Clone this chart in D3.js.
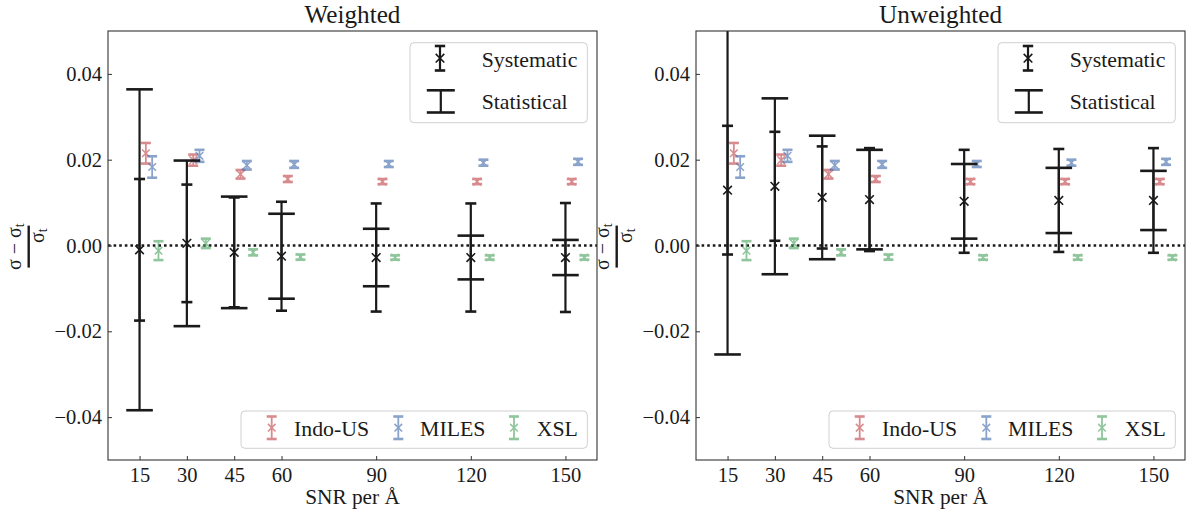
<!DOCTYPE html>
<html><head><meta charset="utf-8">
<script src="https://cdn.jsdelivr.net/npm/d3@7"></script>
<style>body{margin:0;background:#fff}svg{display:block}text{font-family:"Liberation Serif","Times New Roman",serif;fill:#1a1a1a}</style>
</head><body><svg id="c" width="1189" height="519"></svg>
<script>
const snr = [15, 30, 45, 60, 90, 120, 150];
const xTicks = [15, 30, 45, 60, 90, 120, 150];
const yTicks = [-0.04, -0.02, 0, 0.02, 0.04];

// Weighted (black)
const wMean = [-0.0010, 0.0005, -0.0016, -0.0025, -0.0028, -0.0028, -0.0028];
const wStat = [0.0374, 0.0193, 0.0130, 0.0099, 0.0067, 0.0051, 0.0041];
const wSys  = [0.0165, 0.0137, 0.0128, 0.0127, 0.0126, 0.0126, 0.0127];
// Unweighted (black)
const uMean = [0.0129, 0.0138, 0.0112, 0.0107, 0.0103, 0.0105, 0.0105];
const uStat = [0.0383, 0.0205, 0.0144, 0.0116, 0.0087, 0.0076, 0.0069];
const uSys  = [0.0150, 0.0127, 0.0119, 0.0120, 0.0120, 0.0120, 0.0122];
// Libraries
const libNames = ["Indo-US", "MILES", "XSL"];
const indoMean = [0.0215, 0.0199, 0.0166, 0.0155, 0.0149, 0.0149, 0.0149];
const indoErr  = [0.0024, 0.0013, 0.0010, 0.0007, 0.0006, 0.0006, 0.0006];
const milesMean = [0.0183, 0.0209, 0.0187, 0.0189, 0.0190, 0.0193, 0.0195];
const milesErr  = [0.0025, 0.0014, 0.0010, 0.0008, 0.0007, 0.0007, 0.0007];
const xslMean = [-0.0012, 0.0005, -0.0016, -0.0027, -0.0028, -0.0028, -0.0028];
const xslErr  = [0.0022, 0.0011, 0.0007, 0.0006, 0.0005, 0.0005, 0.0005];
const libOffsets = [2, 4, 6];
const libColors = ["#C44E52", "#4C72B0", "#55A868"];

const svg = d3.select("#c");
const BLACK = "#1a1a1a";
const yTop = 31, yBot = 460, pw = 489;

const panels = [
  {title: "Weighted", x0: 108, mean: wMean, stat: wStat, sys: wSys},
  {title: "Unweighted", x0: 696, mean: uMean, stat: uStat, sys: uSys}
];
const libs = [
  {name: libNames[0], mean: indoMean, err: indoErr, off: libOffsets[0], color: libColors[0]},
  {name: libNames[1], mean: milesMean, err: milesErr, off: libOffsets[1], color: libColors[1]},
  {name: libNames[2], mean: xslMean, err: xslErr, off: libOffsets[2], color: libColors[2]}
];

function errbar(g, cx, y0, y1, cap, color, lw, capw, opacity) {
  const gg = g.append("g").attr("opacity", opacity);
  gg.append("line").attr("x1", cx).attr("x2", cx).attr("y1", y0).attr("y2", y1)
    .attr("stroke", color).attr("stroke-width", lw);
  [y0, y1].forEach(yy => gg.append("line").attr("x1", cx - cap).attr("x2", cx + cap)
    .attr("y1", yy).attr("y2", yy).attr("stroke", color).attr("stroke-width", capw));
  return gg;
}
function xmark(g, cx, cy, r, color, lw) {
  g.append("path").attr("d", `M${cx-r},${cy-r}L${cx+r},${cy+r}M${cx-r},${cy+r}L${cx+r},${cy-r}`)
    .attr("stroke", color).attr("stroke-width", lw).attr("fill", "none");
}

panels.forEach((p, pi) => {
  const x = d3.scaleLinear().domain([5, 160]).range([p.x0, p.x0 + pw]);
  const y = d3.scaleLinear().domain([-0.05, 0.05]).range([yBot, yTop]);
  const g = svg.append("g");
  const clipId = "clip" + pi;
  svg.append("clipPath").attr("id", clipId).append("rect")
    .attr("x", p.x0).attr("y", yTop).attr("width", pw).attr("height", yBot - yTop);
  const plot = g.append("g").attr("clip-path", `url(#${clipId})`);

  // zero line
  plot.append("line").attr("x1", p.x0).attr("x2", p.x0 + pw).attr("y1", y(0)).attr("y2", y(0))
    .attr("stroke", BLACK).attr("stroke-width", 2.6).attr("stroke-dasharray", "2.6,3");

  // libraries
  libs.forEach(l => {
    snr.forEach((s, i) => {
      const cx = x(s + l.off);
      const gg = errbar(plot, cx, y(l.mean[i] + l.err[i]), y(l.mean[i] - l.err[i]), 5, l.color, 1.8, 2.6, 0.65);
      xmark(gg, cx, y(l.mean[i]), 3.8, l.color, 1.5);
    });
  });

  // black: statistical & systematic
  snr.forEach((s, i) => {
    const cx = x(s);
    errbar(plot, cx, y(p.mean[i] + p.stat[i]), y(p.mean[i] - p.stat[i]), 13.3, BLACK, 2.2, 2.6, 1);
    const gs = errbar(plot, cx, y(p.mean[i] + p.sys[i]), y(p.mean[i] - p.sys[i]), 5.5, BLACK, 2.2, 2.6, 1);
    xmark(gs, cx, y(p.mean[i]), 4.3, BLACK, 1.6);
  });

  // axes
  const ax = g.append("g").attr("transform", `translate(0,${yBot})`)
    .call(d3.axisBottom(x).tickValues(xTicks).tickSize(-4).tickPadding(7).tickFormat(d3.format("d")));
  const ay = g.append("g").attr("transform", `translate(${p.x0},0)`)
    .call(d3.axisLeft(y).tickValues(yTicks).tickSize(-4).tickPadding(6).tickFormat(d3.format(".2f")));
  [ax, ay].forEach(a => {
    a.select(".domain").remove();
    a.selectAll(".tick line").attr("stroke", "#333").attr("stroke-width", 1);
    a.selectAll(".tick text").attr("font-size", 20.5).attr("font-family", "Liberation Serif").attr("fill", "#1a1a1a");
  });
  g.append("rect").attr("x", p.x0).attr("y", yTop).attr("width", pw).attr("height", yBot - yTop)
    .attr("fill", "none").attr("stroke", "#333").attr("stroke-width", 1.1);

  // title & x label
  const cxm = p.x0 + pw / 2;
  g.append("text").attr("x", cxm).attr("y", 23).attr("text-anchor", "middle").attr("font-size", 25.2).text(p.title);
  g.append("text").attr("x", cxm).attr("y", 504).attr("text-anchor", "middle").attr("font-size", 21.3).text("SNR per Å");

  // y label (fraction)
  const yl = g.append("g").attr("transform", `translate(${p.x0 - 79.3},246.6) rotate(-90)`);
  const num = yl.append("text").attr("x", 0).attr("y", -8).attr("text-anchor", "middle").attr("font-size", 20);
  num.append("tspan").text("σ − σ");
  num.append("tspan").attr("font-size", 14).attr("dy", 3).text("t");
  yl.append("line").attr("x1", -21).attr("x2", 21).attr("y1", 0).attr("y2", 0)
    .attr("stroke", BLACK).attr("stroke-width", 2.4);
  const den = yl.append("text").attr("x", 11).attr("y", 15.5).attr("text-anchor", "middle").attr("font-size", 20);
  den.append("tspan").text("σ");
  den.append("tspan").attr("font-size", 14).attr("dy", 3).text("t");

  // top legend
  const dx = p.x0 - 108;
  g.append("rect").attr("x", 410 + dx).attr("y", 42.7).attr("width", 177.3).attr("height", 80)
    .attr("rx", 4).attr("fill", "#fff").attr("fill-opacity", 0.8).attr("stroke", "#d0d0d0").attr("stroke-width", 1);
  const ls = errbar(g, 440 + dx, 46, 70.5, 5.2, BLACK, 2.2, 2.6, 1);
  xmark(ls, 440 + dx, 58.2, 4.3, BLACK, 1.6);
  g.append("text").attr("x", 481.7 + dx).attr("y", 66.5).attr("font-size", 21.8).text("Systematic");
  errbar(g, 440.8 + dx, 90.3, 112.5, 14, BLACK, 2.2, 2.6, 1);
  g.append("text").attr("x", 481.7 + dx).attr("y", 109.3).attr("font-size", 21.8).text("Statistical");

  // bottom legend
  g.append("rect").attr("x", 241 + dx).attr("y", 411).attr("width", 346.3).attr("height", 37.3)
    .attr("rx", 4).attr("fill", "#fff").attr("fill-opacity", 0.8).attr("stroke", "#d0d0d0").attr("stroke-width", 1);
  const iconX = [271.7, 398.3, 514], textX = [294, 420, 536.7];
  libs.forEach((l, k) => {
    const gg = errbar(g, iconX[k] + dx, 416.5, 439, 5, l.color, 1.8, 2.6, 0.65);
    xmark(gg, iconX[k] + dx, 427.7, 3.8, l.color, 1.5);
    g.append("text").attr("x", textX[k] + dx).attr("y", 435.5).attr("font-size", 21.8).text(l.name);
  });
});
</script></body></html>
